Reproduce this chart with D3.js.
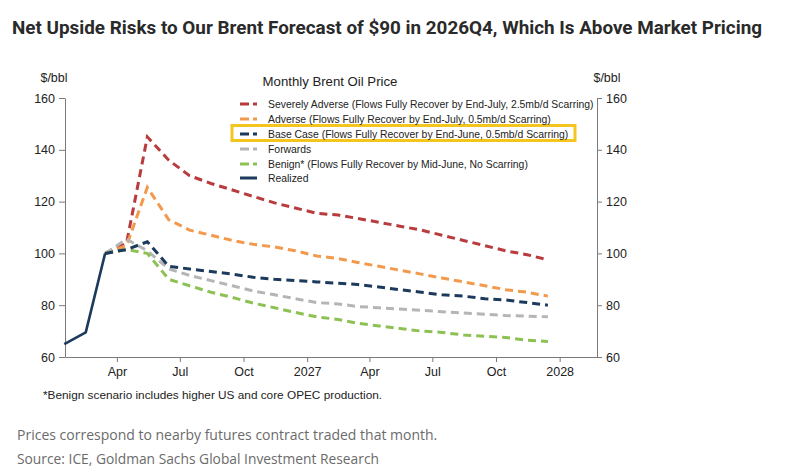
<!DOCTYPE html>
<html>
<head>
<meta charset="utf-8">
<script src="https://cdn.jsdelivr.net/npm/d3@7"></script>
<style>
  body { margin: 0; background: #fff; }
  svg { display: block; }
</style>
</head>
<body>
<script>
// months with data (mid-month points)
const realizedMonths = ["2026-01", "2026-02", "2026-03"];
const realized = [65, 69.5, 100];

const forecastMonths = [
  "2026-03", "2026-04", "2026-05", "2026-06", "2026-07", "2026-08", "2026-09",
  "2026-10", "2026-11", "2026-12", "2027-01", "2027-02", "2027-03", "2027-04",
  "2027-05", "2027-06", "2027-07", "2027-08", "2027-09", "2027-10", "2027-11", "2027-12"
];
const severelyAdverse = [100, 104, 145, 136, 130, 127, 124.5, 122, 119.5, 117.5, 115.5, 114.8, 113.5, 112, 110.5, 109, 107, 105, 103, 101, 99.5, 97.5];
const adverse         = [100, 103, 125.5, 113, 109, 107, 105, 103.5, 102.5, 101, 99, 98, 96.5, 95, 93.5, 92, 90.5, 89, 87.5, 86, 85, 83.5];
const baseCase        = [100, 101.5, 104.5, 95, 94, 93, 92, 90.8, 90, 89.5, 89, 88.5, 88, 87, 86, 85, 84, 83.5, 82.5, 82, 81, 80];
const forwards        = [100, 105.5, 101, 94, 91.5, 89.5, 87.5, 85.5, 84, 82.5, 81, 80.5, 79.5, 79, 78.5, 78, 77.5, 77, 76.5, 76, 75.8, 75.5];
const benign          = [100, 101.5, 100, 90, 87.5, 85, 83, 80.8, 79, 77.2, 75.5, 74.5, 73, 72, 71, 70, 69.5, 68.5, 68, 67.5, 66.5, 66];

const yTicks = [60, 80, 100, 120, 140, 160];
const xTickDates = ["2026-04", "2026-07", "2026-10", "2027-01", "2027-04", "2027-07", "2027-10", "2028-01"];
const xTickLabels = ["Apr", "Jul", "Oct", "2027", "Apr", "Jul", "Oct", "2028"];

const legendLabels = [
  "Severely Adverse (Flows Fully Recover by End-July, 2.5mb/d Scarring)",
  "Adverse (Flows Fully Recover by End-July, 0.5mb/d Scarring)",
  "Base Case (Flows Fully Recover by End-June, 0.5mb/d Scarring)",
  "Forwards",
  "Benign* (Flows Fully Recover by Mid-June, No Scarring)",
  "Realized"
];

const width = 800, height = 476;
const chartFont = "'Liberation Sans', Arial, sans-serif";

const parseMonth = d3.timeParse("%Y-%m");
const mid = s => { const d = parseMonth(s); d.setDate(15); return d; };

const svg = d3.select("body").append("svg")
  .attr("width", width)
  .attr("height", height);

// title
svg.append("text")
  .attr("x", 12).attr("y", 34)
  .attr("textLength", 750)
  .attr("lengthAdjust", "spacingAndGlyphs")
  .style("font-family", "Roboto, 'Open Sans', sans-serif")
  .style("font-weight", "700")
  .style("font-size", "19px")
  .attr("fill", "#2a2a2a")
  .text("Net Upside Risks to Our Brent Forecast of $90 in 2026Q4, Which Is Above Market Pricing");

// scales
const x = d3.scaleTime()
  .domain([new Date(2026, 0, 16), new Date(2028, 1, 24)])
  .range([65, 597]);

const y = d3.scaleLinear()
  .domain([60, 160])
  .range([357, 98]);

const axisColor = "#7a7a7a";

// left axis
svg.append("g")
  .attr("transform", `translate(${x.range()[0]},0)`)
  .call(d3.axisLeft(y).tickValues(yTicks).tickSize(6).tickSizeOuter(0).tickPadding(4))
  .call(g => g.selectAll("path, line").attr("stroke", axisColor))
  .call(g => g.selectAll("text")
    .style("font-family", chartFont).style("font-size", "12.5px").attr("fill", "#222"));

// right axis
svg.append("g")
  .attr("transform", `translate(${x.range()[1]},0)`)
  .call(d3.axisRight(y).tickValues(yTicks).tickSize(5).tickSizeOuter(0).tickPadding(4))
  .call(g => g.selectAll("path, line").attr("stroke", axisColor))
  .call(g => g.selectAll("text")
    .style("font-family", chartFont).style("font-size", "12.5px").attr("fill", "#222"));

// bottom axis
svg.append("g")
  .attr("transform", `translate(0,${y.range()[0]})`)
  .call(d3.axisBottom(x)
    .tickValues(xTickDates.map(parseMonth))
    .tickFormat((d, i) => xTickLabels[i])
    .tickSize(5).tickSizeOuter(0).tickPadding(5))
  .call(g => g.selectAll("path, line").attr("stroke", axisColor))
  .call(g => g.selectAll("text")
    .style("font-family", chartFont).style("font-size", "12.5px").attr("fill", "#222"));

// unit labels
[[54, "$/bbl"], [607, "$/bbl"]].forEach(([lx, t]) => {
  svg.append("text")
    .attr("x", lx).attr("y", 82)
    .attr("text-anchor", "middle")
    .style("font-family", chartFont).style("font-size", "12.5px")
    .attr("fill", "#222").text(t);
});

// series
const series = [
  { values: severelyAdverse, color: "#b83b3e" },
  { values: adverse, color: "#f2994c" },
  { values: forwards, color: "#b5b5b5" },
  { values: benign, color: "#8dc153" },
  { values: baseCase, color: "#1c3a5c" }
];

const line = d3.line()
  .x(d => x(d.date))
  .y(d => y(d.value));

series.forEach(s => {
  svg.append("path")
    .datum(forecastMonths.map((m, i) => ({ date: mid(m), value: s.values[i] })))
    .attr("fill", "none")
    .attr("stroke", s.color)
    .attr("stroke-width", 3)
    .attr("stroke-dasharray", "8,5")
    .attr("d", line);
});

svg.append("path")
  .datum(realizedMonths.map((m, i) => ({ date: mid(m), value: realized[i] })))
  .attr("fill", "none")
  .attr("stroke", "#1c3a5c")
  .attr("stroke-width", 2.6)
  .attr("stroke-linejoin", "round")
  .attr("d", line);

// legend
svg.append("text")
  .attr("x", 330).attr("y", 86)
  .attr("text-anchor", "middle")
  .style("font-family", chartFont).style("font-size", "13.2px")
  .attr("fill", "#222").text("Monthly Brent Oil Price");

const legendColors = ["#b83b3e", "#f2994c", "#1c3a5c", "#b5b5b5", "#8dc153", "#1c3a5c"];
const legendRowY = [104, 119, 134, 149, 164, 178];

// yellow highlight round base case
svg.append("rect")
  .attr("x", 232).attr("y", 125.5)
  .attr("width", 343).attr("height", 15)
  .attr("fill", "none")
  .attr("stroke", "#f4c51c")
  .attr("stroke-width", 3);

legendLabels.forEach((lab, i) => {
  const ly = legendRowY[i];
  svg.append("line")
    .attr("x1", 240).attr("x2", 257)
    .attr("y1", ly).attr("y2", ly)
    .attr("stroke", legendColors[i])
    .attr("stroke-width", 3)
    .attr("stroke-dasharray", i === 5 ? null : "9,4");
  svg.append("text")
    .attr("x", 268).attr("y", ly + 3.6)
    .style("font-family", chartFont).style("font-size", "10.4px")
    .attr("fill", "#222").text(lab);
});

// footnote
svg.append("text")
  .attr("x", 43).attr("y", 399)
  .style("font-family", chartFont).style("font-size", "11.8px")
  .attr("fill", "#222")
  .text("*Benign scenario includes higher US and core OPEC production.");

// caption and source
svg.append("text")
  .attr("x", 17).attr("y", 440)
  .style("font-family", "'Open Sans', sans-serif").style("font-size", "14px")
  .attr("fill", "#6b6b6b")
  .text("Prices correspond to nearby futures contract traded that month.");

svg.append("text")
  .attr("x", 17).attr("y", 464)
  .style("font-family", "'Open Sans', sans-serif").style("font-size", "13.8px")
  .attr("fill", "#6b6b6b")
  .text("Source: ICE, Goldman Sachs Global Investment Research");
</script>
</body>
</html>
